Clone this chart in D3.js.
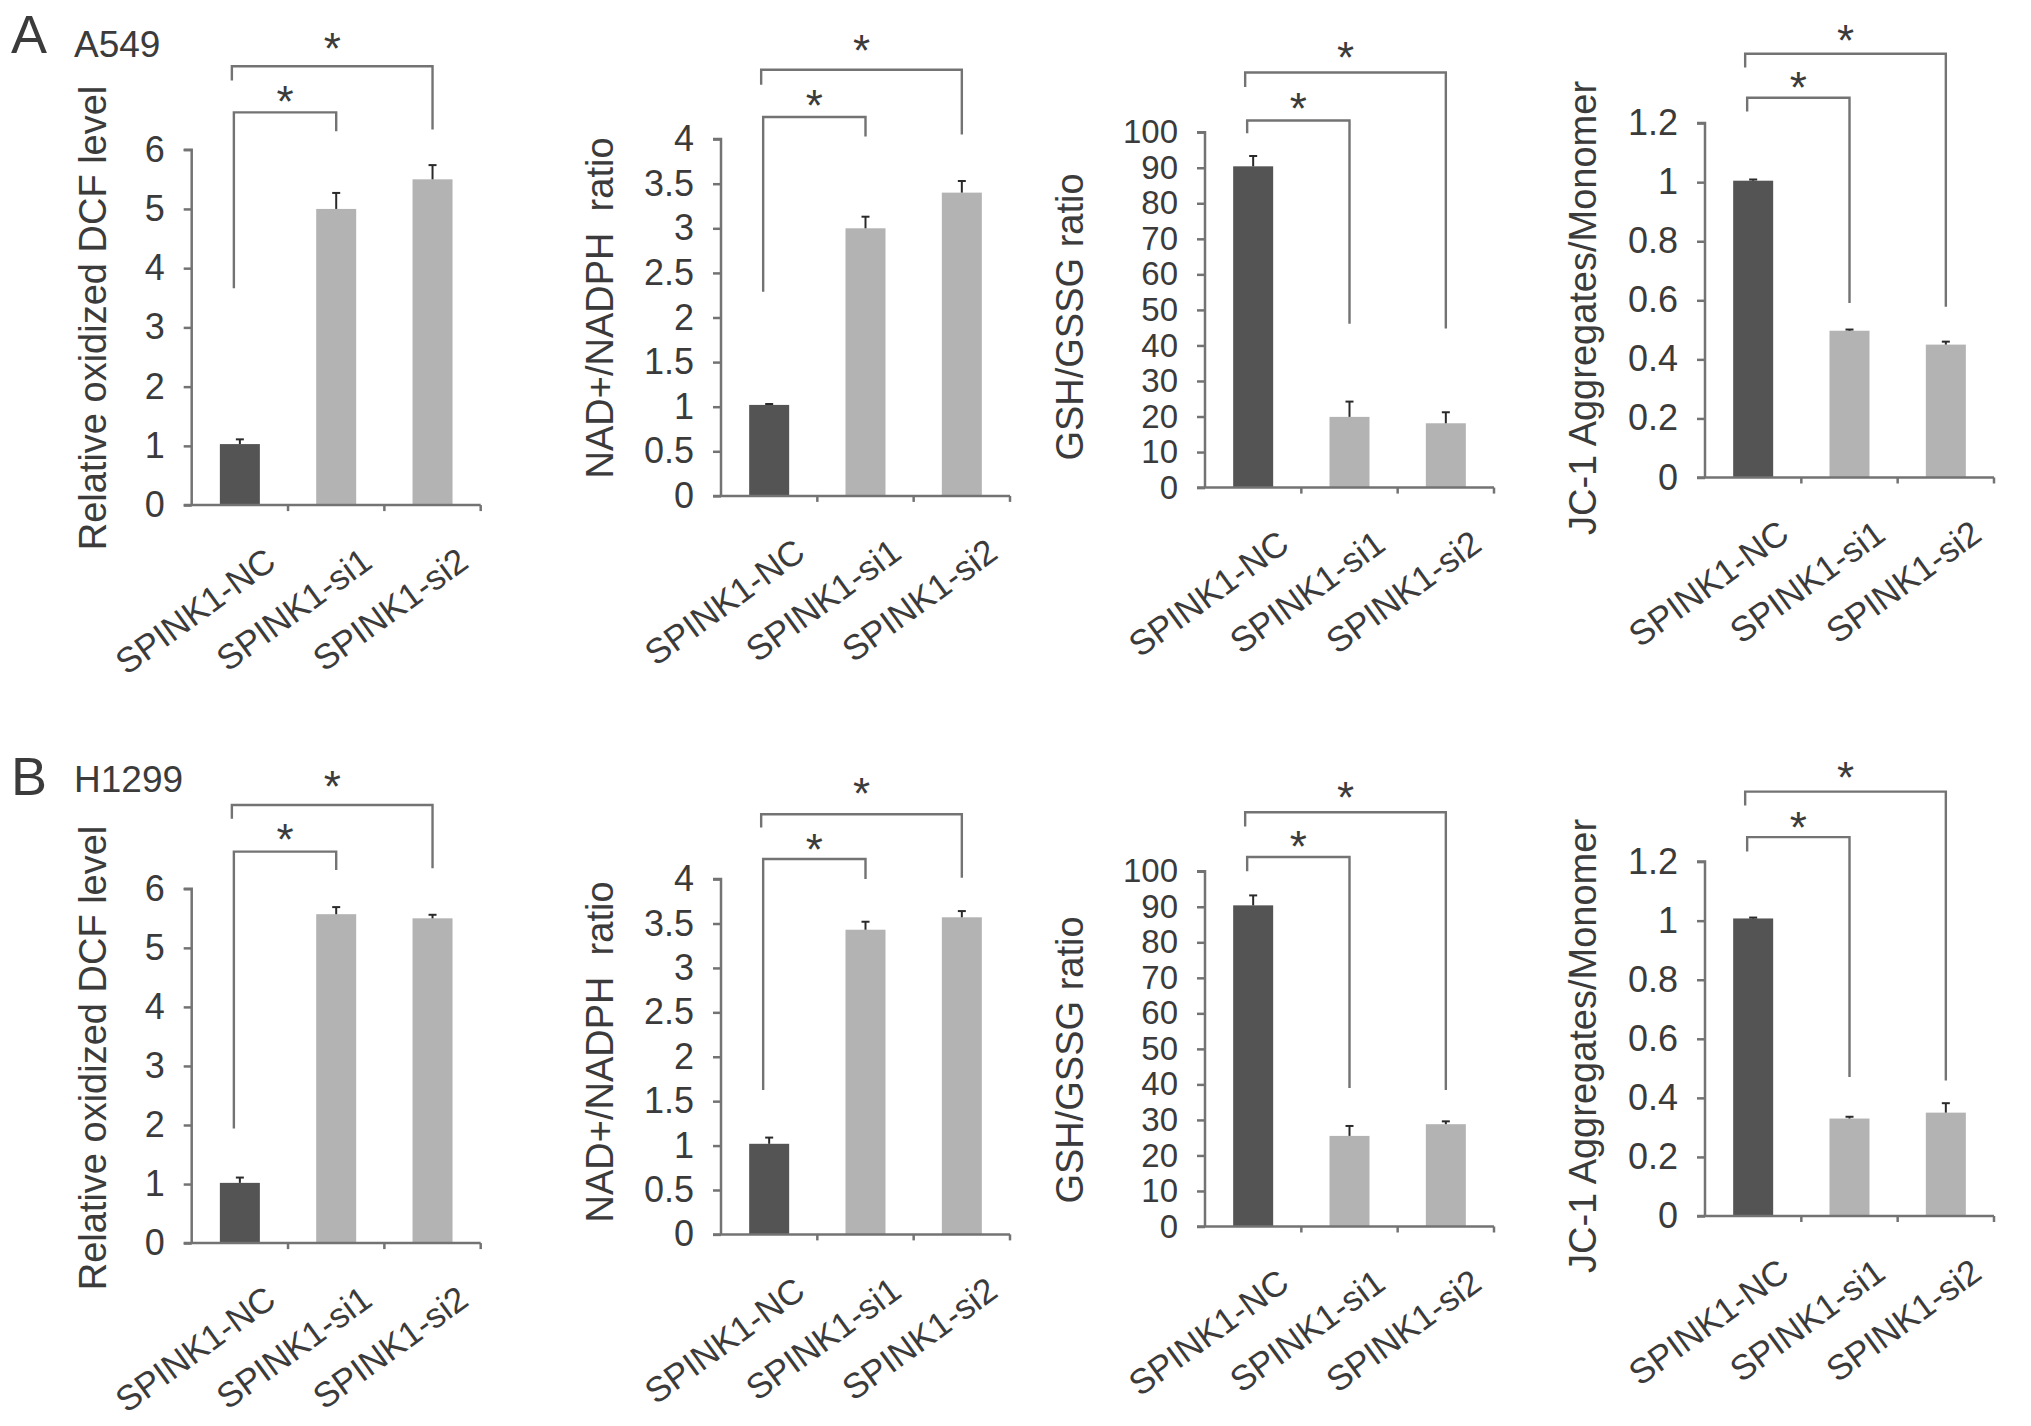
<!DOCTYPE html>
<html lang="en">
<head>
  <meta charset="utf-8">
  <title>SPINK1 knockdown panels</title>
  <script src="https://d3js.org/d3.v7.min.js"></script>
  <style>
    body { margin: 0; background: #fff; }
    text { font-family: "Liberation Sans", Arial, sans-serif; fill: #3b3b3b; white-space: pre; }
  </style>
</head>
<body>
<script>
// categories shared by every panel
var categories = ["SPINK1-NC", "SPINK1-si1", "SPINK1-si2"];

// tick labels for the four kinds of panels
var dcfTicks = [0, 1, 2, 3, 4, 5, 6];
var nadTicks = [0, 0.5, 1, 1.5, 2, 2.5, 3, 3.5, 4];
var gshTicks = [0, 10, 20, 30, 40, 50, 60, 70, 80, 90, 100];
var jcTicks  = [0, 0.2, 0.4, 0.6, 0.8, 1, 1.2];

var yTitles = ["Relative oxidized DCF level", "NAD+/NADPH  ratio", "GSH/GSSG ratio", "JC-1 Aggregates/Monomer"];

// row A (A549)
var dcfA = [1.03, 5.0, 5.5],    dcfAErr = [0.08, 0.27, 0.24];
var nadA = [1.02, 3.0, 3.4],    nadAErr = [0.01, 0.13, 0.13];
var gshA = [90.4, 19.9, 18.1],  gshAErr = [2.9, 4.3, 3.1];
var jcA  = [1.005, 0.497, 0.45], jcAErr = [0.004, 0.004, 0.01];

// row B (H1299)
var dcfB = [1.02, 5.57, 5.5],   dcfBErr = [0.09, 0.12, 0.06];
var nadB = [1.02, 3.43, 3.57],  nadBErr = [0.07, 0.09, 0.07];
var gshB = [90.4, 25.5, 28.8],  gshBErr = [2.8, 2.8, 0.8];
var jcB  = [1.0075, 0.33, 0.35], jcBErr = [0.003, 0.006, 0.032];

// significance brackets, in data units: [bar level, left drop end, right drop end, star level]
var bracketsA = [
  {outer: [7.41, 7.17, 6.34, 7.87], inner: [6.63, 3.66, 6.31, 6.98]},
  {outer: [4.777, 4.608, 4.052, 5.096], inner: [4.247, 2.29, 4.03, 4.479]},
  {outer: [116.8, 112.7, 44.8, 123.6], inner: [103.3, 99.7, 46.1, 109.4]},
  {outer: [1.435, 1.388, 0.578, 1.511], inner: [1.286, 1.239, 0.591, 1.3525]}
];
var bracketsB = [
  {outer: [7.42, 7.185, 6.35, 7.89], inner: [6.63, 1.94, 6.32, 7.0]},
  {outer: [4.73, 4.58, 4.016, 5.074], inner: [4.227, 1.626, 4.0, 4.444]},
  {outer: [116.6, 112.6, 38.4, 123.4], inner: [104.0, 100.0, 39.0, 109.6]},
  {outer: [1.437, 1.39, 0.459, 1.516], inner: [1.283, 1.234, 0.471, 1.348]}
];

var W = 2031, H = 1426;
var plotW = 289;
var darkFill = "#545454", lightFill = "#b3b3b3", axisCol = "#737373";

var svg = d3.select("body").append("svg")
  .attr("width", W).attr("height", H)
  .style("display", "block");
svg.append("rect").attr("width", W).attr("height", H).attr("fill", "#fff");

// panel positions (left axis x, pixel of 0, pixel of top tick, title x/y, tick font)
var panels = [
  {x0: 191.7, y0: 505.1, yTop: 149.7, tx: 93,   ty: 318, fs: 36, ticks: dcfTicks, vals: dcfA, err: dcfAErr, br: bracketsA[0], title: yTitles[0]},
  {x0: 721,   y0: 495.9, yTop: 139.1, tx: 600,  ty: 308, fs: 36, ticks: nadTicks, vals: nadA, err: nadAErr, br: bracketsA[1], title: yTitles[1]},
  {x0: 1205,  y0: 487.6, yTop: 132.2, tx: 1070, ty: 317, fs: 33, ticks: gshTicks, vals: gshA, err: gshAErr, br: bracketsA[2], title: yTitles[2]},
  {x0: 1705,  y0: 477.5, yTop: 123.1, tx: 1583, ty: 308, fs: 36, ticks: jcTicks,  vals: jcA,  err: jcAErr,  br: bracketsA[3], title: yTitles[3]},
  {x0: 191.7, y0: 1243.1, yTop: 888.8, tx: 93,   ty: 1058, fs: 36, ticks: dcfTicks, vals: dcfB, err: dcfBErr, br: bracketsB[0], title: yTitles[0]},
  {x0: 721,   y0: 1234.4, yTop: 879.1, tx: 600,  ty: 1052, fs: 36, ticks: nadTicks, vals: nadB, err: nadBErr, br: bracketsB[1], title: yTitles[1]},
  {x0: 1205,  y0: 1226.5, yTop: 871.25, tx: 1070, ty: 1060, fs: 33, ticks: gshTicks, vals: gshB, err: gshBErr, br: bracketsB[2], title: yTitles[2]},
  {x0: 1705,  y0: 1216,   yTop: 861.6, tx: 1583, ty: 1046, fs: 36, ticks: jcTicks,  vals: jcB,  err: jcBErr,  br: bracketsB[3], title: yTitles[3]}
];

panels.forEach(function(p) {
  var g = svg.append("g");
  var maxT = p.ticks[p.ticks.length - 1];

  var x = d3.scaleBand().domain(categories).range([p.x0, p.x0 + plotW]).padding(0);
  var y = d3.scaleLinear().domain([0, maxT]).range([p.y0, p.yTop]);
  var bw = 40;

  // bars
  g.selectAll("rect.bar")
    .data(p.vals)
    .enter().append("rect")
    .attr("x", function(d, i) { return x(categories[i]) + x.bandwidth() / 2 - bw / 2; })
    .attr("y", function(d) { return y(d); })
    .attr("width", bw)
    .attr("height", function(d) { return p.y0 - y(d); })
    .attr("fill", function(d, i) { return i == 0 ? darkFill : lightFill; });

  // error bars (upper only)
  p.vals.forEach(function(d, i) {
    var cx = x(categories[i]) + x.bandwidth() / 2;
    g.append("line").attr("x1", cx).attr("x2", cx)
      .attr("y1", y(d)).attr("y2", y(d + p.err[i]))
      .attr("stroke", "#2a2a2a").attr("stroke-width", 2);
    g.append("line").attr("x1", cx - 4).attr("x2", cx + 4)
      .attr("y1", y(d + p.err[i])).attr("y2", y(d + p.err[i]))
      .attr("stroke", "#2a2a2a").attr("stroke-width", 2);
  });

  // y axis
  var yAxis = d3.axisLeft(y).tickValues(p.ticks).tickSize(8).tickPadding(19)
    .tickFormat(function(d) { return String(d); });
  var ya = g.append("g").attr("transform", "translate(" + p.x0 + ",0)").call(yAxis);
  ya.select(".domain").attr("stroke", axisCol).attr("stroke-width", 2.5)
    .attr("d", "M-8," + y(maxT) + "H0V" + p.y0);
  ya.selectAll(".tick line").attr("stroke", axisCol).attr("stroke-width", 2.5);
  ya.selectAll(".tick text").style("font-size", p.fs + "px").attr("fill", "#3b3b3b");

  // x axis
  var xa = g.append("g").attr("transform", "translate(0," + p.y0 + ")");
  xa.append("line").attr("x1", p.x0 - 8).attr("x2", p.x0 + plotW)
    .attr("stroke", axisCol).attr("stroke-width", 2.5);
  [1, 2, 3].forEach(function(k) {
    var tx = p.x0 + k * x.step();
    xa.append("line").attr("x1", tx).attr("x2", tx).attr("y1", 0).attr("y2", 6)
      .attr("stroke", axisCol).attr("stroke-width", 2.5);
  });
  xa.selectAll("text.cat")
    .data(categories)
    .enter().append("text")
    .attr("class", "cat")
    .attr("transform", function(d) {
      return "translate(" + (x(d) + x.bandwidth() / 2 + 38) + "," + 61 + ") rotate(-36)";
    })
    .attr("text-anchor", "end")
    .style("font-size", "35px")
    .text(function(d) { return d; });

  // y title
  g.append("text")
    .attr("transform", "translate(" + p.tx + "," + p.ty + ") rotate(-90)")
    .attr("text-anchor", "middle")
    .attr("dy", "0.35em")
    .style("font-size", "38px")
    .text(p.title);

  // significance brackets
  var nc = x(categories[0]) + x.bandwidth() / 2;
  function bracket(b, leftX, rightCat) {
    var rx = x(rightCat) + x.bandwidth() / 2;
    g.append("path")
      .attr("d", "M" + leftX + "," + y(b[1]) + "V" + y(b[0]) + "H" + rx + "V" + y(b[2]))
      .attr("fill", "none").attr("stroke", axisCol).attr("stroke-width", 2.4);
    g.append("text")
      .attr("x", (leftX + rx) / 2).attr("y", y(b[3]))
      .attr("dy", "0.57em")
      .attr("text-anchor", "middle")
      .style("font-size", "44px")
      .text("*");
  }
  bracket(p.br.outer, nc - 8, categories[2]);
  bracket(p.br.inner, nc - 6, categories[1]);
});

// panel letters and cell lines
svg.append("text").attr("x", 11).attr("y", 53).style("font-size", "54px").attr("fill", "#222").text("A");
svg.append("text").attr("x", 74).attr("y", 57).style("font-size", "37px").text("A549");
svg.append("text").attr("x", 11).attr("y", 795).style("font-size", "54px").attr("fill", "#222").text("B");
svg.append("text").attr("x", 74).attr("y", 792).style("font-size", "37px").text("H1299");
</script>
</body>
</html>
